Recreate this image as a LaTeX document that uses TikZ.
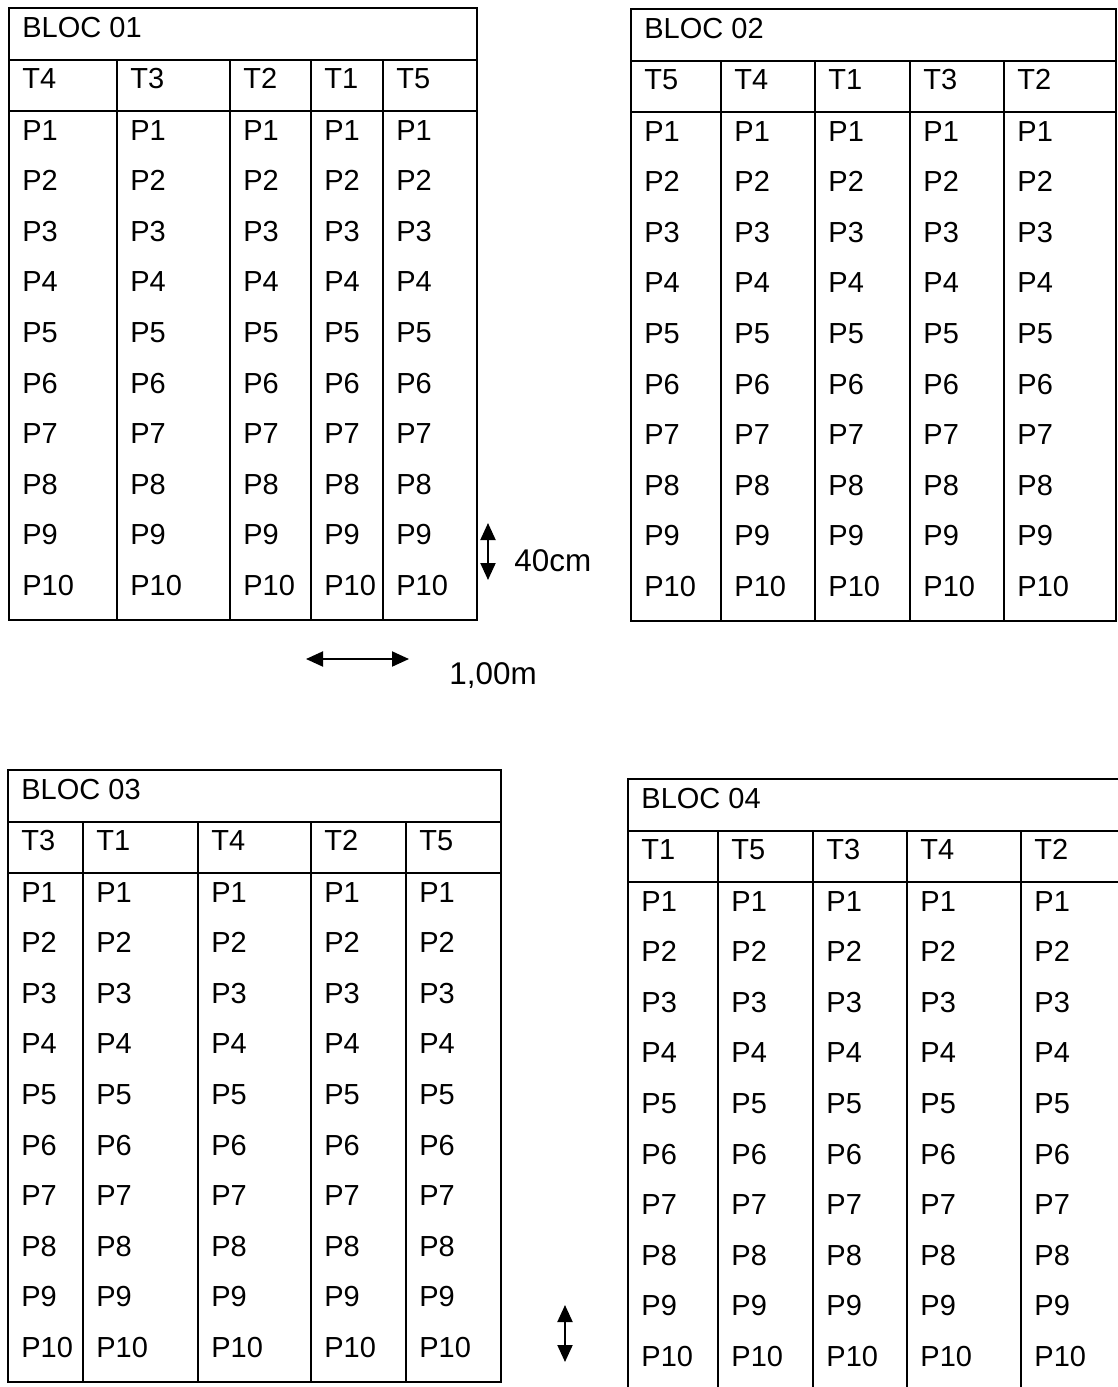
\documentclass[tikz,border=0pt]{standalone}
\usepackage{fontspec}
\setmainfont{Liberation Sans}
\usetikzlibrary{arrows.meta}
\tikzset{
  grid/.style={line width=1.1pt, line join=miter},
  lbl/.style={anchor=base west, inner sep=0pt, font=\fontsize{14.5}{17}\selectfont},
  dimlbl/.style={anchor=base west, inner sep=0pt, font=\fontsize{15.7}{18}\selectfont},
  dim/.style={line width=1pt, {Triangle[width=7.5pt,length=8.5pt]}-{Triangle[width=7.5pt,length=8.5pt]}},
}
% #1 name, #2 left, #3 right, #4 top, #5 title, #6 list x/T
\newcommand\mybloc[6]{%
  \pgfmathsetmacro\tA{#4+52}%
  \pgfmathsetmacro\tB{#4+103}%
  \pgfmathsetmacro\tC{#4+612}%
  \draw[grid] (#2,#4) rectangle (#3,\tC);
  \draw[grid] (#2,\tA) -- (#3,\tA) (#2,\tB) -- (#3,\tB);
  \node[lbl] (#1title) at (#2+13,#4+29) {#5};
  \foreach \x/\t [count=\i] in {#6} {
    \ifnum\i>1 \draw[grid] (\x,\tA) -- (\x,\tC); \fi
    \node[lbl] (#1t\i) at (\x+13,#4+80) {\t};
    \foreach \j in {1,...,10}
      \node[lbl] (#1p\i r\j) at (\x+13,{#4+132+(\j-1)*50.6}) {P\j};
  }
}
\begin{document}
\begin{tikzpicture}[x=0.5pt,y=-0.5pt]
\useasboundingbox (0,0) rectangle (1118,1387);
\clip (0,0) rectangle (1118,1387);
\fill[white] (0,0) rectangle (1118,1387);
\mybloc{b1}{9}{477}{8}{BLOC 01}{9/T4,117/T3,230/T2,311/T1,383/T5}
\mybloc{b2}{631}{1116}{9}{BLOC 02}{631/T5,721/T4,815/T1,910/T3,1004/T2}
\mybloc{b3}{8}{501}{770}{BLOC 03}{8/T3,83/T1,198/T4,311/T2,406/T5}
\mybloc{b4}{628}{1130}{779}{BLOC 04}{628/T1,718/T5,813/T3,907/T4,1021/T2}
% dimension markers
\coordinate (v1a) at (488,523); \coordinate (v1b) at (488,580);
\draw[dim] (v1a) -- (v1b);
\node[dimlbl] (l40) at (514,571) {40cm};
\coordinate (h1a) at (306,659); \coordinate (h1b) at (409,659);
\draw[dim] (h1a) -- (h1b);
\node[dimlbl] (l100) at (449,684) {1,00m};
\coordinate (v2a) at (565,1305); \coordinate (v2b) at (565,1362);
\draw[dim] (v2a) -- (v2b);
\end{tikzpicture}
\end{document}
